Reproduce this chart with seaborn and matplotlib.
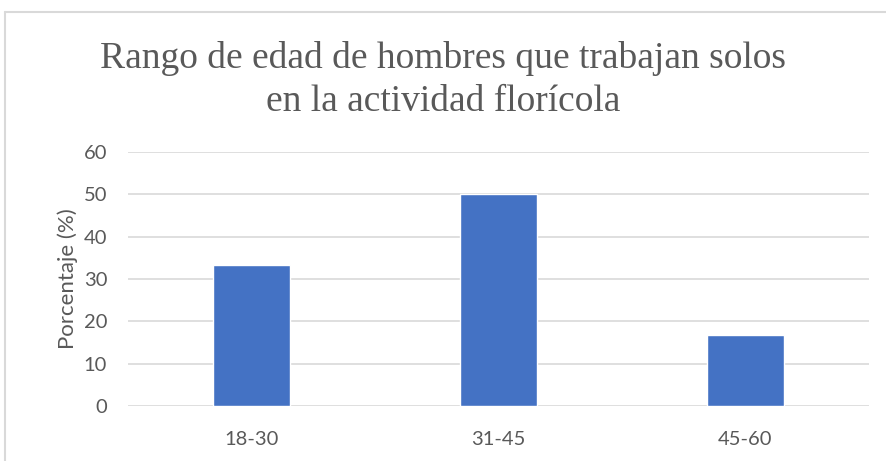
import matplotlib
matplotlib.use("Agg")
import matplotlib.pyplot as plt
import seaborn as sns
import pandas as pd
from matplotlib.lines import Line2D

categories = ["18-30", "31-45", "45-60"]
values = [33.3, 50.0, 16.7]
yticks = [0, 10, 20, 30, 40, 50, 60]
title = "Rango de edad de hombres que trabajan solos\nen la actividad florícola"
ylabel = "Porcentaje (%)"

sns.set_theme(style="white")
plt.rcParams['font.family'] = ['Lato', 'DejaVu Sans']

W, H = 886, 461
fig = plt.figure(figsize=(W/100, H/100), dpi=100)
ax = fig.add_axes([128/W, 1-406/H, (869-128)/W, (406-152)/H])

df = pd.DataFrame({"cat": categories, "val": values})
sns.barplot(data=df, x="cat", y="val", color="#4472C4", width=0.31, ax=ax, saturation=1)

ax.set_ylim(0, 60)
ax.set_yticks(yticks)
ax.set_xlim(-0.5, 2.5)
ax.grid(axis="y", color="#D9D9D9", linewidth=1.2)
ax.set_axisbelow(True)
for s in ax.spines.values():
    s.set_visible(False)
ax.tick_params(axis="both", length=0, labelsize=14.5, colors="#595959")
ax.tick_params(axis="y", pad=15)
ax.tick_params(axis="x", pad=18)
ax.set_xlabel("")
ax.set_ylabel(ylabel, fontsize=16, color="#595959", labelpad=4)

fig.text(0.5, 1-80/H, title, ha="center", va="center", fontsize=27,
         family=["Liberation Serif"], color="#595959", linespacing=1.3)

fig.add_artist(Line2D([5/W, 5/W], [0, 1-12/H], color="#D9D9D9", linewidth=1.5, transform=fig.transFigure))
fig.add_artist(Line2D([5/W, 1], [1-12/H, 1-12/H], color="#D9D9D9", linewidth=1.5, transform=fig.transFigure))

fig.savefig("out.png", dpi=100, facecolor="white")
